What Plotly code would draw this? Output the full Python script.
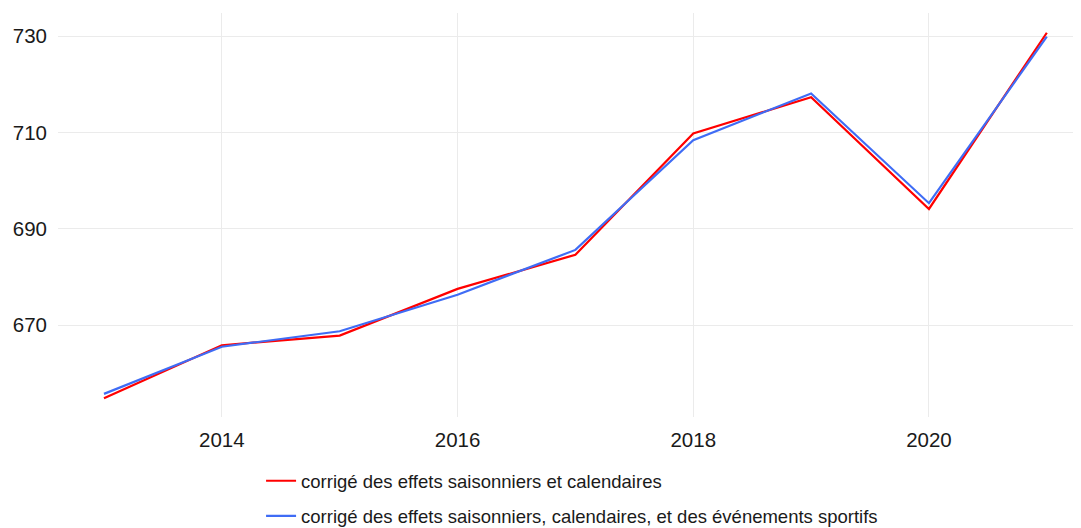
import plotly.graph_objects as go

# Années
annees = [2013, 2014, 2015, 2016, 2017, 2018, 2019, 2020, 2021]

# Série CVS-CJO
cvs_cjo = [654.8, 665.8, 667.8, 677.5, 684.6, 709.8, 717.3, 694.1, 730.7]

# Série CVS-CJO corrigée des événements sportifs
cvs_cjo_sport = [655.7, 665.5, 668.7, 676.3, 685.6, 708.4, 718.1, 695.3, 729.9]

nom_1 = "corrigé des effets saisonniers et calendaires"
nom_2 = "corrigé des effets saisonniers, calendaires, et des événements sportifs"

fig = go.Figure()

fig.add_trace(go.Scatter(
    x=annees, y=cvs_cjo, mode="lines", name=nom_1,
    line=dict(color="#FF0000", width=2.2),
    legendgroup="a",
))
fig.add_trace(go.Scatter(
    x=annees, y=cvs_cjo_sport, mode="lines", name=nom_2,
    line=dict(color="#3F6CF5", width=2.2),
    legendgroup="b",
))

# la page ajoute une marge de 8 px autour de la figure
fig.update_layout(
    width=1073, height=520,
    margin=dict(l=50, r=0, t=5, b=111, autoexpand=False),
    paper_bgcolor="white", plot_bgcolor="white",
    font=dict(family="Liberation Sans, Arial, sans-serif", color="#1a1a1a"),
    xaxis=dict(
        range=[2012.61, 2021.29],
        tickvals=[2014, 2016, 2018, 2020],
        showgrid=True, gridcolor="#EBEBEB", gridwidth=1,
        zeroline=False, showline=False, ticks="",
        tickfont=dict(size=20.5, color="#1a1a1a"),
        ticklabelstandoff=8,
    ),
    yaxis=dict(
        range=[650.9, 734.8],
        tickvals=[670, 690, 710, 730],
        showgrid=True, gridcolor="#EBEBEB", gridwidth=1,
        zeroline=False, showline=False, ticks="",
        tickfont=dict(size=20.5, color="#1a1a1a"),
        ticklabelstandoff=10,
    ),
    showlegend=True,
    legend=dict(
        orientation="v",
        x=0.1985, xanchor="left",
        yref="container",
        y=0.1265, yanchor="top",
        font=dict(size=18.5, color="#1a1a1a"),
        traceorder="grouped",
        tracegroupgap=8,
        itemwidth=30,
    ),
)

fig.write_html("out.html")
